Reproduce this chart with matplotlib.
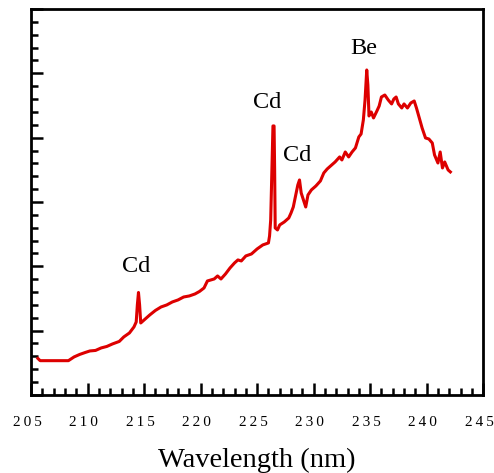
import matplotlib
matplotlib.use("Agg")
from matplotlib import pyplot as plt
from matplotlib.ticker import MultipleLocator, FuncFormatter
from matplotlib.transforms import ScaledTranslation

# spectrum (arbitrary intensity units)
wavelength = [205.6, 205.8, 208.3, 208.8, 209.3, 209.8, 210.2, 210.7, 211.2, 211.7,
              212.2, 212.8, 213.2, 213.7, 214.1, 214.3, 214.4, 214.5, 214.6, 214.7,
              215.0, 215.5, 216.0, 216.5, 217.0, 217.5, 218.0, 218.5, 219.0, 219.5,
              219.9, 220.3, 220.6, 221.2, 221.5, 221.8, 222.2, 222.6, 223.0, 223.3,
              223.6, 224.0, 224.5, 225.0, 225.5, 226.0, 226.1, 226.2, 226.35, 226.4,
              226.5, 226.55, 226.6, 226.8, 227.0, 227.4, 227.8, 228.0, 228.2, 228.4,
              228.6, 228.75, 228.9, 229.1, 229.3, 229.5, 229.8, 230.2, 230.6, 230.9,
              231.2, 231.5, 231.9, 232.3, 232.5, 232.8, 233.1, 233.4, 233.7, 234.0,
              234.2, 234.4, 234.55, 234.7, 234.8, 234.9, 235.1, 235.3, 235.6, 235.8,
              236.0, 236.3, 236.6, 236.9, 237.1, 237.3, 237.5, 237.8, 238.0, 238.3,
              238.6, 238.9, 239.1, 239.4, 239.6, 239.9, 240.2, 240.5, 240.7, 241.0,
              241.2, 241.4, 241.6, 241.9, 242.1]
intensity = [0.567, 0.533, 0.533, 0.591, 0.630, 0.661, 0.684, 0.692, 0.731, 0.754,
             0.793, 0.832, 0.902, 0.964, 1.057, 1.135, 1.399, 1.593, 1.399, 1.119,
             1.166, 1.244, 1.314, 1.368, 1.399, 1.446, 1.477, 1.523, 1.539, 1.570,
             1.609, 1.663, 1.772, 1.803, 1.850, 1.803, 1.881, 1.974, 2.052, 2.099,
             2.083, 2.161, 2.192, 2.270, 2.332, 2.363, 2.472, 2.720, 3.809, 4.182,
             4.182, 3.498, 2.596, 2.565, 2.643, 2.689, 2.751, 2.829, 2.922, 3.093,
             3.264, 3.342, 3.140, 3.031, 2.922, 3.109, 3.187, 3.249, 3.327, 3.451,
             3.513, 3.560, 3.622, 3.700, 3.653, 3.777, 3.700, 3.777, 3.840, 4.011,
             4.057, 4.275, 4.586, 5.052, 4.819, 4.337, 4.399, 4.306, 4.415, 4.492,
             4.632, 4.663, 4.586, 4.524, 4.601, 4.632, 4.524, 4.461, 4.524, 4.461,
             4.539, 4.570, 4.461, 4.275, 4.150, 3.995, 3.979, 3.917, 3.731, 3.606,
             3.777, 3.529, 3.622, 3.498, 3.467]

# peak labels
peak_names = ["Cd", "Cd", "Cd", "Be"]
peak_x = [214.3, 225.9, 228.5, 234.4]
peak_y = [2.0, 4.55, 3.72, 5.39]

plt.rcParams['font.family'] = ['Liberation Serif', 'DejaVu Serif']

fig = plt.figure(figsize=(4.94, 4.73), dpi=100)
ax = fig.add_axes([0.063, 0.165, 0.915, 0.816])

ax.plot(wavelength, intensity, color='#dd0000', lw=2.2)

for name, px, py in zip(peak_names, peak_x, peak_y):
    ax.text(px, py, name, fontsize=17.5, ha='center', va='center')

ax.set_xlim(205, 245)
ax.set_ylim(0, 6)
ax.xaxis.set_major_locator(MultipleLocator(5))
ax.xaxis.set_minor_locator(MultipleLocator(1))
ax.yaxis.set_major_locator(MultipleLocator(1))
ax.yaxis.set_minor_locator(MultipleLocator(0.2))
# letter-spaced tick labels
ax.xaxis.set_major_formatter(FuncFormatter(lambda v, p: "\u2009".join(str(int(v)))))
ax.set_yticklabels([])
ax.tick_params(which='both', direction='in', top=False, right=False, width=1.8)
ax.tick_params(which='major', length=8.5)
ax.tick_params(which='minor', length=5)
ax.tick_params(axis='x', which='major', labelsize=11, pad=15)
for s in ax.spines.values():
    s.set_linewidth(2)

# labels in the original sit a few pixels left of their ticks
shift = ScaledTranslation(-4 / 100, 0, fig.dpi_scale_trans)
for lab in ax.get_xticklabels():
    lab.set_transform(lab.get_transform() + shift)

ax.set_xlabel("Wavelength (nm)", fontsize=20.5, labelpad=14)

fig.savefig("out.png", dpi=100)
